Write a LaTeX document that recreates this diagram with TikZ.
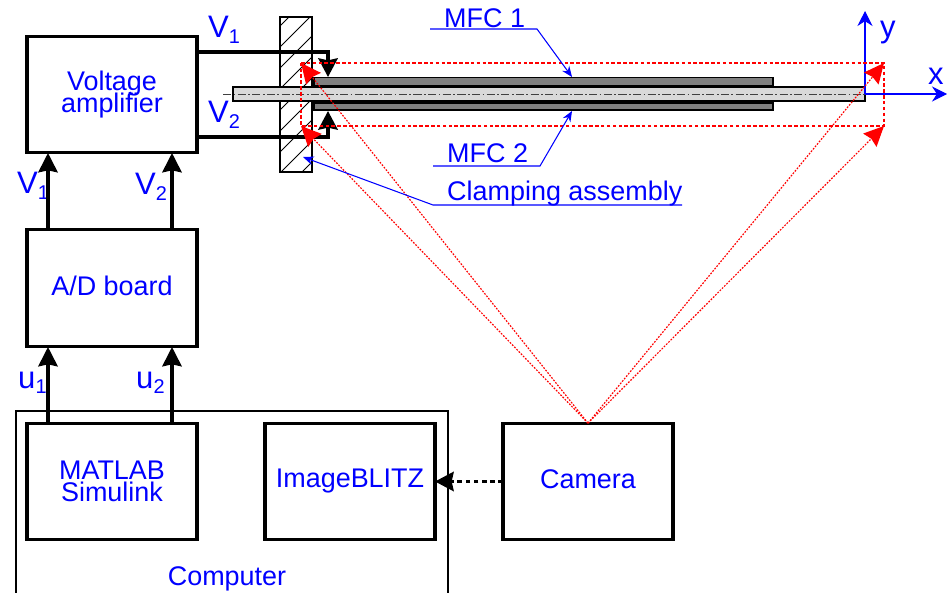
\documentclass[tikz,border=0pt]{standalone}
\usepackage{fontspec}
\setmainfont{Liberation Sans}
\usepackage{xcolor}
\usetikzlibrary{arrows.meta}

\definecolor{labelblue}{RGB}{0,0,255}
\definecolor{rayred}{RGB}{255,0,0}
\newcommand{\lowidx}[1]{\raisebox{-4.5pt}{\fontsize{17}{17}\selectfont #1}}
\lineskiplimit=-100pt

\tikzset{
    block/.style={draw=black,line width=2.6pt,minimum width=5.1cm,minimum height=3.5cm,
                  inner sep=0pt,outer sep=0pt,align=center,text=labelblue,
                  font=\fontsize{23}{19}\selectfont},
    label/.style={text=labelblue,inner sep=0pt,anchor=base,font=\fontsize{23}{19}\selectfont},
    biglabel/.style={text=labelblue,inner sep=0pt,anchor=base west,font=\fontsize{26.5}{26}\selectfont},
    bigarrow/.style={line width=2.6pt,-{Stealth[length=5.8mm,width=5.8mm,inset=0.6mm]}},
    wire/.style={line width=2.6pt,-{Stealth[length=5.6mm,width=5.8mm,inset=0.6mm]}},
    ray/.style={draw=rayred,line width=1pt,dash pattern=on 1.5pt off 1.2pt,-{Stealth[length=6mm,width=5.6mm,inset=0.6mm,color=rayred,sep=0pt]}},
    leader/.style={draw=labelblue,line width=0.9pt,-{Stealth[length=3.2mm,width=2.6mm]}},
    axis/.style={draw=labelblue,line width=0.9pt,-{Stealth[length=4.5mm,width=4.5mm]}},
}

\begin{document}
\begin{tikzpicture}[x=0.03cm,y=-0.03cm]
\useasboundingbox (0,0) rectangle (947,593);

\begin{scope}
    % container first, its bottom runs off the page
    \node [draw=black,line width=1.7pt,minimum width=12.96cm,minimum height=6cm,outer sep=0pt] (computer) at (232,511) {};
    \node [label] (computertext) at (227,585) {Computer};

    \node [block] (amp) at (112,94.5) {Voltage\\amplifier};
    \node [block,text depth=4.5pt] (board) at (112,288) {A/D board};
    \node [block] (simulink) at (112,481.5) {MATLAB\\Simulink};
    \node [block] (blitz) at (350,481.5) {ImageBLITZ};
    \node [block,text depth=4.5pt] (camera) at (588,481.5) {Camera};

    \node [biglabel] (vone) at (208,38) {V\lowidx{1}};
    \node [biglabel] (vtwo) at (208,123) {V\lowidx{2}};
    \node [biglabel] (vonein) at (17,194) {V\lowidx{1}};
    \node [biglabel] (vtwoin) at (135,195) {V\lowidx{2}};
    \node [biglabel] (uone) at (18,388) {u\lowidx{1}};
    \node [biglabel] (utwo) at (136,388) {u\lowidx{2}};

    \node [label,anchor=base west] (mfcone) at (444,28) {MFC 1};
    \node [label,anchor=base west] (mfctwo) at (447,163) {MFC 2};
    \node [label,anchor=base west] (clamptext) at (447,200) {Clamping assembly};

    \node [biglabel] (xlabel) at (928,85) {x};
    \node [biglabel] (ylabel) at (880,38) {y};
\end{scope}

% clamp with its hatching
\draw [line width=1pt,fill=white] (280,17) rectangle (312,172);
\begin{scope}
    \clip (280,17) rectangle (312,172);
    \foreach \c in {306,327,...,474}
        \draw [line width=0.7pt] (260,\c-260) -- (330,\c-330);
\end{scope}

% wires to the patches
\coordinate (vonefrom) at (197,52);
\coordinate (vonetip) at (328,77);
\coordinate (vtwofrom) at (197,137);
\coordinate (vtwotip) at (328,111);
\draw [wire] (vonefrom) -| (vonetip);
\draw [wire] (vtwofrom) -| (vtwotip);

% beam and patches
\node [draw=black,line width=1.2pt,fill=black!15,minimum width=18.96cm,minimum height=0.42cm,inner sep=0pt,outer sep=0pt] (beam) at (549,94) {};
\node [draw=black,line width=1.2pt,fill=black!50,minimum width=13.77cm,minimum height=0.25cm,inner sep=0pt,outer sep=0pt] (mfcup) at (543.5,81.5) {};
\node [draw=black,line width=1.2pt,fill=black!50,minimum width=13.77cm,minimum height=0.21cm,inner sep=0pt,outer sep=0pt] (mfcdown) at (543.5,106.5) {};
\coordinate (centerfrom) at (223,94);
\coordinate (centerto) at (873,94);
\draw [line width=0.6pt,black!75,dash pattern=on 7pt off 2pt on 1.5pt off 2pt] (centerfrom) -- (centerto);

% axes
\coordinate (origin) at (865,94);
\coordinate (xtip) at (947,94);
\coordinate (ytip) at (865,11);
\draw [axis] (origin) -- (xtip);
\draw [axis] (origin) -- (ytip);

% field of view
\coordinate (topleft) at (301,63);
\coordinate (topright) at (884,63);
\coordinate (botleft) at (301,126);
\coordinate (botright) at (884,126);
\draw [rayred,line width=1.3pt,dash pattern=on 3pt off 2pt] (topleft) -- (topright) -- (botright) -- (botleft) -- cycle;
\begin{scope}[every edge/.style={ray}]
    \path (camera.north) edge (topleft);
    \path (camera.north) edge (topright);
    \path (camera.north) edge (botleft);
    \path (camera.north) edge (botright);
\end{scope}

% signal arrows between the blocks
\coordinate (bvone) at (48,230);
\coordinate (avone) at (48,153);
\coordinate (bvtwo) at (172,230);
\coordinate (avtwo) at (172,153);
\coordinate (svone) at (48,423);
\coordinate (buone) at (48,347);
\coordinate (svtwo) at (172,423);
\coordinate (butwo) at (172,347);
\draw [bigarrow] (bvone) -- (avone);
\draw [bigarrow] (bvtwo) -- (avtwo);
\draw [bigarrow] (svone) -- (buone);
\draw [bigarrow] (svtwo) -- (butwo);
\draw [line width=2.6pt,dash pattern=on 4pt off 3pt,-{Stealth[length=5.6mm,width=5.8mm,inset=0.6mm]}] (camera.west) -- (blitz.east);

% leaders of the labels
\coordinate (mfconeleft) at (430,29);
\coordinate (mfconeknee) at (537,29);
\coordinate (mfconetip) at (572,77);
\coordinate (mfctwoleft) at (433,166);
\coordinate (mfctwoknee) at (540,166);
\coordinate (mfctwotip) at (572,111);
\coordinate (clampright) at (682,205);
\coordinate (clampknee) at (433,205);
\coordinate (clamptip) at (303,157);
\draw [leader] (mfconeleft) -- (mfconeknee) -- (mfconetip);
\draw [leader] (mfctwoleft) -- (mfctwoknee) -- (mfctwotip);
\draw [leader] (clampright) -- (clampknee) -- (clamptip);
\end{tikzpicture}
\end{document}
